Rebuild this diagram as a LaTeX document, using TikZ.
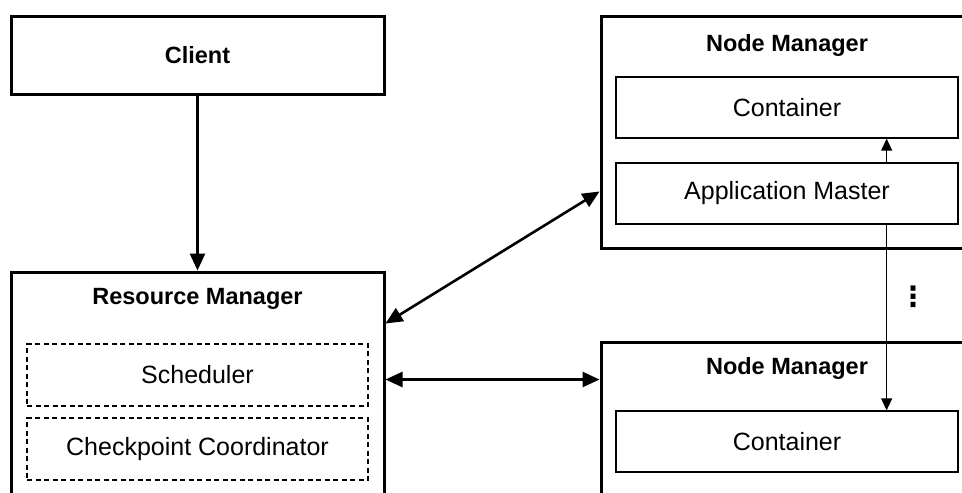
\documentclass[tikz,border=0pt]{standalone}
\usepackage{fontspec}
\setmainfont{Liberation Sans}
\newfontfamily\symfont{DejaVu Sans}
\usetikzlibrary{arrows.meta,calc}

\tikzset{
  outerbox/.style={draw=black, line width=3pt, fill=white, rectangle, inner sep=0pt},
  innerbox/.style={draw=black, line width=1.3pt, fill=white, rectangle, inner sep=0pt,
                   font=\fontsize{25}{29}\selectfont},
  dashbox/.style={innerbox, dashed, dash pattern=on 5pt off 3.5pt},
  title/.style={font=\fontsize{23.5}{27}\selectfont\bfseries, inner sep=0pt},
  bigarrow/.style={line width=2.6pt, -{Triangle[length=17pt,width=15pt]}},
  bigboth/.style={line width=2.6pt, {Triangle[length=17pt,width=15pt]}-{Triangle[length=17pt,width=15pt]}},
  thinarrow/.style={line width=1.4pt, -{Triangle[length=12pt,width=11pt]}}
}

\begin{document}
\begin{tikzpicture}[x=1pt,y=-1pt]
  \useasboundingbox (0,0) rectangle (962,493);
  \fill[white] (0,0) rectangle (962,493);
  \clip (0,0) rectangle (962,493);

  % Client
  \node[outerbox, minimum width=373pt, minimum height=78pt, font=\fontsize{23.5}{27}\selectfont\bfseries]
    (client) at (197.5,55) {Client};

  % Resource Manager and its parts
  \node[outerbox, minimum width=373pt, minimum height=288pt] (rm) at (197.5,416) {};
  \node[title] (rmtitle) at (197.5,299) {Resource Manager};
  \node[dashbox, minimum width=341pt, minimum height=62pt] (sched) at (197.5,375) {Scheduler};
  \node[dashbox, minimum width=341pt, minimum height=62pt] (ckpt) at (197.5,449) {Checkpoint Coordinator};

  % First Node Manager
  \node[outerbox, minimum width=379pt, minimum height=232pt] (nma) at (790.5,132) {};
  \node[title] (nmatitle) at (787,45) {Node Manager};
  \node[innerbox, minimum width=342pt, minimum height=61pt] (conta) at (787,107.5) {Container};
  \node[innerbox, minimum width=342pt, minimum height=61pt] (am) at (787,193.5) {Application Master};

  % Second Node Manager
  \node[outerbox, minimum width=379pt, minimum height=218pt] (nmb) at (790.5,451) {};
  \node[title] (nmbtitle) at (787,368) {Node Manager};
  \node[innerbox, minimum width=342pt, minimum height=61pt] (contb) at (787,441.5) {Container};

  % more node managers in between
  \node[font=\symfont\bfseries\fontsize{28}{32}\selectfont, inner sep=0pt] (more) at (913,297) {⋮};

  % Connectors
  \draw[bigarrow] (client.south) -- (rm.north);
  \draw[bigboth] ($(rm.north east)+(0,53)$) -- ($(nma.north west)+(0,177)$);
  \draw[bigboth] ($(rm.north east)+(0,109)$) -- ($(nmb.north west)+(0,39)$);
  \draw[thinarrow] ($(am.north east)+(-72,0)$) -- ($(conta.south east)+(-72,0)$);
  \draw[thinarrow] ($(am.south east)+(-72,0)$) -- ($(contb.north east)+(-72,0)$);
\end{tikzpicture}
\end{document}
